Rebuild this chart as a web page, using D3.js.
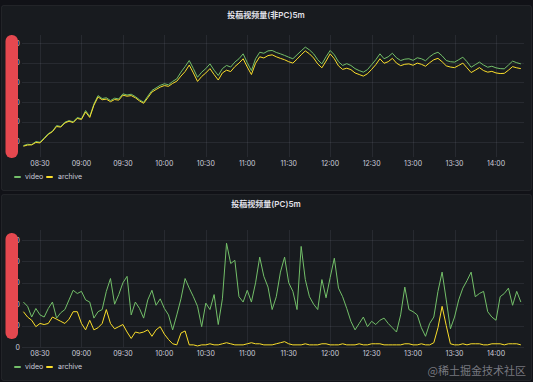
<!DOCTYPE html>
<html>
<head>
<meta charset="utf-8">
<script src="https://cdn.jsdelivr.net/npm/d3@7"></script>
<style>
  body { margin: 0; background: #111217; }
  svg { display: block; font-family: Inter, Roboto, "Noto Sans CJK SC", sans-serif; }
</style>
</head>
<body>
<script>
// Series sampled every 3 minutes starting at 08:18.
var startTime = new Date(2023, 0, 1, 8, 18),
    stepMinutes = 3;

var xTicks = ["08:30", "09:00", "09:30", "10:00", "10:30", "11:00", "11:30",
              "12:00", "12:30", "13:00", "13:30", "14:00"];

// Panel 1: 投稿视频量(非PC)5m
var topTicks = [100, 200, 300, 400, 500, 600];
var topVideo = [79, 86, 84, 100, 96, 118, 140, 152, 181, 176,
  198, 206, 200, 222, 215, 257, 227, 290, 333, 318,
  322, 308, 320, 316, 342, 336, 340, 328, 312, 299,
  330, 359, 372, 385, 393, 388, 405, 418, 452, 480,
  511, 470, 426, 452, 470, 494, 462, 435, 470, 486,
  478, 503, 520, 545, 500, 460, 520, 553, 548, 560,
  562, 552, 545, 537, 528, 520, 540, 560, 579, 565,
  545, 515, 494, 530, 562, 540, 505, 486, 495, 486,
  470, 460, 452, 465, 490, 515, 545, 520, 530, 548,
  525, 511, 518, 520, 512, 525, 520, 510, 530, 545,
  553, 535, 511, 505, 503, 515, 528, 505, 477, 490,
  503, 488, 477, 482, 474, 470, 469, 488, 508, 500, 494];
var topArchive = [76, 82, 83, 95, 93, 114, 136, 150, 176, 173,
  194, 203, 196, 217, 212, 250, 222, 284, 326, 312,
  315, 302, 313, 310, 335, 330, 333, 322, 306, 294,
  322, 351, 364, 376, 384, 380, 395, 406, 432, 455,
  488, 448, 405, 430, 448, 470, 440, 412, 448, 462,
  455, 480, 498, 520, 478, 440, 497, 530, 524, 536,
  540, 530, 522, 515, 505, 498, 518, 540, 560, 545,
  524, 494, 474, 508, 545, 520, 484, 466, 472, 465,
  448, 440, 432, 444, 466, 490, 520, 497, 505, 522,
  498, 485, 492, 494, 487, 498, 492, 482, 500, 515,
  522, 505, 484, 478, 475, 486, 498, 474, 450, 462,
  475, 460, 452, 456, 448, 445, 446, 462, 480, 474, 470];

// Panel 2: 投稿视频量(PC)5m
var bottomTicks = [0, 20, 40, 60, 80, 100];
var bottomVideo = [42, 38, 28, 36, 30, 28, 36, 42, 27, 32,
  35, 44, 53, 50, 52, 44, 42, 27, 33, 35,
  52, 64, 40, 49, 60, 66, 30, 42, 36, 27,
  44, 53, 39, 45, 36, 30, 16, 30, 45, 64,
  55, 47, 38, 19, 41, 35, 49, 21, 45, 97,
  78, 81, 47, 42, 53, 42, 60, 84, 66, 56,
  35, 47, 70, 84, 60, 52, 35, 94, 63, 47,
  40, 35, 63, 46, 65, 83, 55, 47, 36, 24,
  16, 22, 28, 19, 24, 21, 25, 27, 22, 18,
  14, 30, 56, 35, 33, 30, 18, 10, 22, 28,
  52, 70, 44, 17, 28, 44, 55, 62, 70, 47,
  50, 52, 33, 28, 25, 47, 50, 55, 39, 52, 42];
var bottomArchive = [33, 28, 25, 19, 22, 21, 22, 28, 26, 24,
  22, 26, 33, 33, 22, 16, 25, 16, 18, 22,
  35, 22, 17, 19, 21, 14, 8, 14, 13, 14,
  16, 10, 16, 19, 12, 7, 3, 2, 13, 15,
  2, 2, 1, 2, 2, 3, 2, 2, 3, 4,
  3, 2, 2, 2, 3, 4, 3, 3, 2, 2,
  2, 3, 4, 5, 3, 2, 2, 2, 3, 2,
  2, 2, 3, 3, 2, 2, 2, 3, 2, 2,
  2, 3, 2, 2, 3, 3, 3, 2, 2, 2,
  2, 2, 3, 3, 2, 2, 3, 2, 2, 4,
  18, 38, 20, 3, 2, 2, 3, 2, 3, 3,
  3, 2, 2, 3, 3, 3, 2, 3, 3, 3, 2];

var width = 533, height = 382;
var textColor = "#ccccdc",
    gridColor = "rgba(204,204,220,0.09)",
    green = "#73bf69",
    yellow = "#fade2a";

var svg = d3.select("body").append("svg")
  .attr("width", width)
  .attr("height", height);

svg.append("rect").attr("width", width).attr("height", height).attr("fill", "#111217");

var parseTime = d3.timeParse("%H:%M");
function timeOf(i) { return new Date(startTime.getTime() + i * stepMinutes * 60000); }

var x = d3.scaleTime()
  .domain([new Date(2023, 0, 1, 8, 30), new Date(2023, 0, 1, 14, 0)])
  .range([40, 496]);

function tickDate(s) {
  var t = parseTime(s);
  return new Date(2023, 0, 1, t.getHours(), t.getMinutes());
}

function drawPanel(opts) {
  var g = svg.append("g");

  g.append("rect")
    .attr("x", 1.5).attr("y", opts.top + 0.5)
    .attr("width", 530).attr("height", opts.h)
    .attr("rx", 2)
    .attr("fill", "#181b1f")
    .attr("stroke", "rgba(204,204,220,0.08)");

  g.append("text")
    .attr("x", 266).attr("y", opts.top + 13)
    .attr("text-anchor", "middle")
    .attr("font-size", 8)
    .attr("font-weight", 600)
    .attr("fill", "#e2e2ea")
    .text(opts.title);

  var y = opts.y;

  // grid
  g.selectAll(".hg").data(opts.ticks).enter().append("line")
    .attr("x1", 22).attr("x2", 524)
    .attr("y1", function(d) { return Math.round(y(d)) + 0.5; })
    .attr("y2", function(d) { return Math.round(y(d)) + 0.5; })
    .attr("stroke", gridColor);

  g.selectAll(".vg").data(xTicks).enter().append("line")
    .attr("x1", function(d) { return Math.round(x(tickDate(d))) + 0.5; })
    .attr("x2", function(d) { return Math.round(x(tickDate(d))) + 0.5; })
    .attr("y1", opts.plotTop).attr("y2", opts.plotBottom)
    .attr("stroke", gridColor);

  // axis labels
  g.selectAll(".yl").data(opts.ticks).enter().append("text")
    .attr("x", 20).attr("y", function(d) { return y(d) + 2.5; })
    .attr("text-anchor", "end")
    .attr("font-size", 7)
    .attr("fill", textColor)
    .text(function(d) { return d; });

  g.selectAll(".xl").data(xTicks).enter().append("text")
    .attr("x", function(d) { return x(tickDate(d)); })
    .attr("y", opts.plotBottom + 9)
    .attr("text-anchor", "middle")
    .attr("font-size", 7)
    .attr("fill", textColor)
    .text(function(d) { return d; });

  var line = d3.line()
    .x(function(d, i) { return x(timeOf(i)); })
    .y(function(d) { return y(d); });

  g.append("path").datum(opts.video)
    .attr("d", line).attr("fill", "none")
    .attr("stroke", green).attr("stroke-width", 1);

  g.append("path").datum(opts.archive)
    .attr("d", line).attr("fill", "none")
    .attr("stroke", yellow).attr("stroke-width", 1);

  // legend
  var ly = opts.plotBottom + 22;
  var legend = [["video", green, 14, 25], ["archive", yellow, 46, 58]];
  legend.forEach(function(l) {
    g.append("rect").attr("x", l[2]).attr("y", ly - 3).attr("width", 7).attr("height", 2)
      .attr("rx", 1).attr("fill", l[1]);
    g.append("text").attr("x", l[3]).attr("y", ly)
      .attr("font-size", 7).attr("fill", textColor).text(l[0]);
  });

  // redaction bar over the y axis labels
  g.append("rect")
    .attr("x", 5.5).attr("y", opts.barTop)
    .attr("width", 12.5).attr("height", opts.barH)
    .attr("rx", 6)
    .attr("fill", "#e5484f");
}

drawPanel({
  top: 5, h: 185, title: "投稿视频量(非PC)5m",
  y: d3.scaleLinear().domain([100, 600]).range([141.5, 43]),
  ticks: topTicks, plotTop: 35, plotBottom: 157,
  video: topVideo, archive: topArchive,
  barTop: 35, barH: 123
});

drawPanel({
  top: 194, h: 186, title: "投稿视频量(PC)5m",
  y: d3.scaleLinear().domain([0, 100]).range([347, 240]),
  ticks: bottomTicks, plotTop: 230, plotBottom: 347,
  video: bottomVideo, archive: bottomArchive,
  barTop: 233, barH: 106
});

svg.append("text")
  .attr("x", 526).attr("y", 375)
  .attr("text-anchor", "end")
  .attr("font-size", 11)
  .attr("fill", "rgba(200,200,210,0.55)")
  .attr("font-family", "'Noto Sans CJK SC', sans-serif")
  .text("@稀土掘金技术社区");
</script>
</body>
</html>
